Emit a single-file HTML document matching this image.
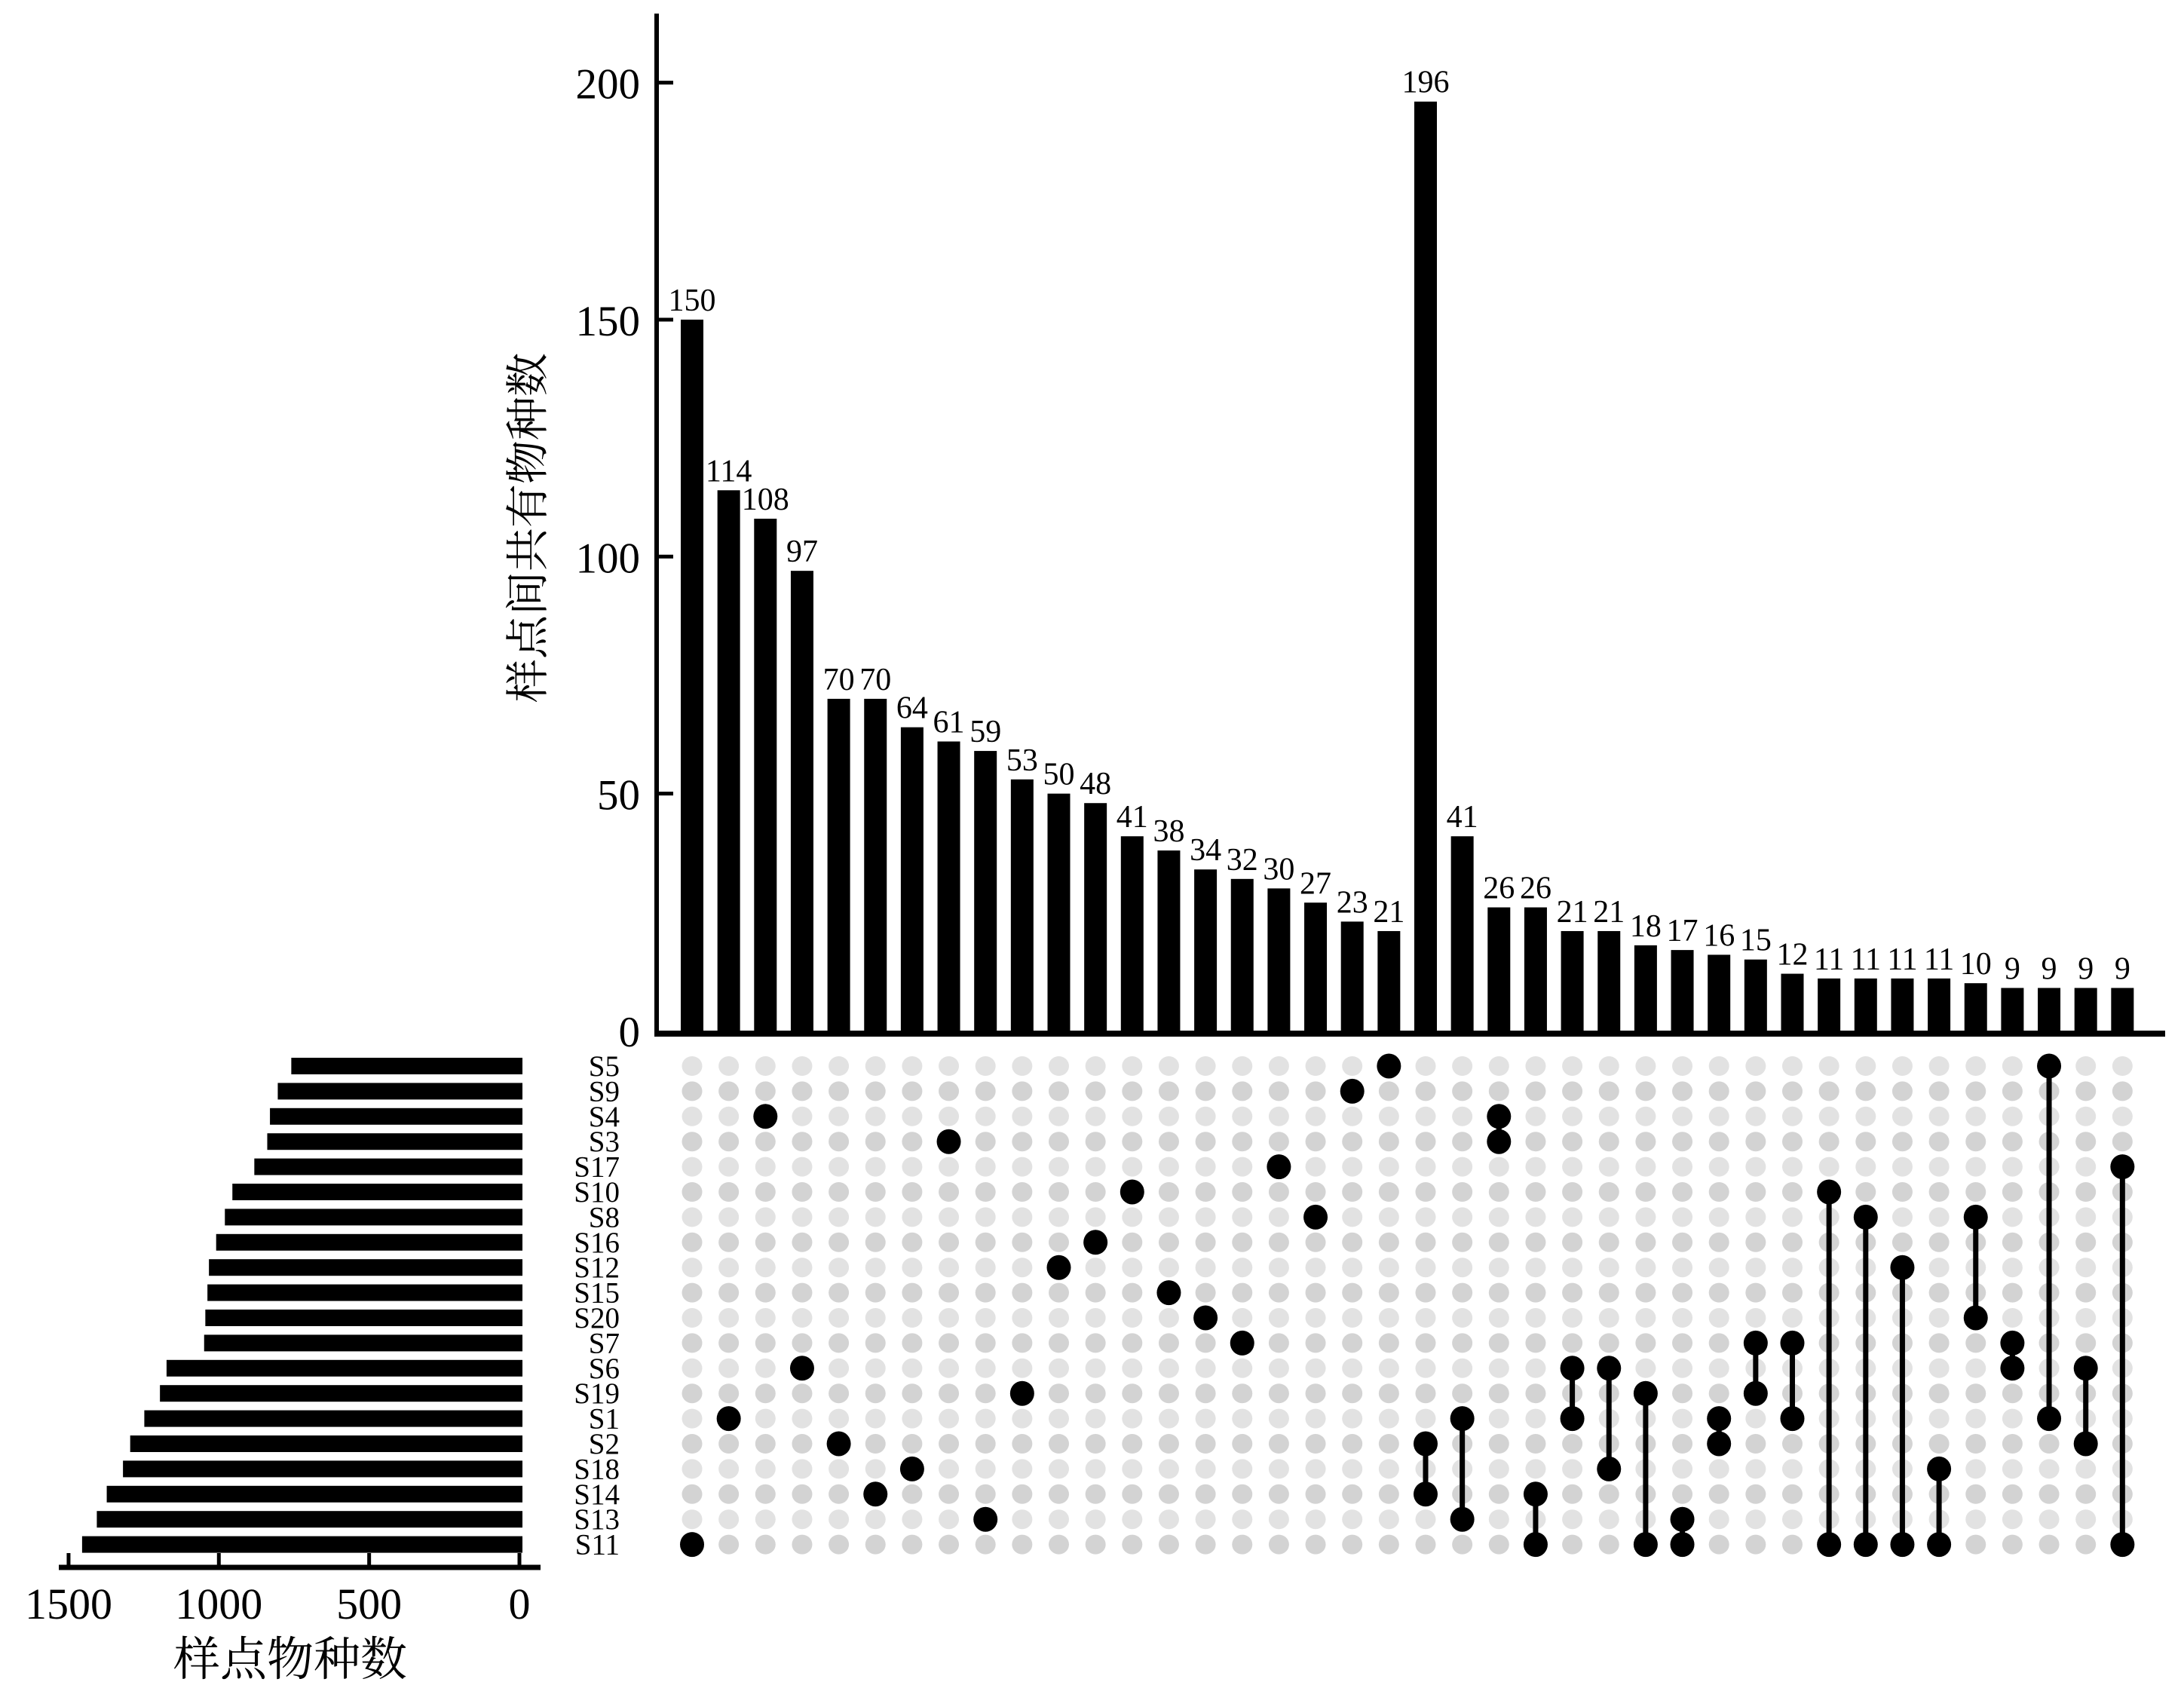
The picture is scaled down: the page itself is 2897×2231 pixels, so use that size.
<!DOCTYPE html>
<html><head><meta charset="utf-8"><style>
html,body{margin:0;padding:0;background:#fff}
svg{display:block}
text{font-family:"Liberation Serif","Noto Serif CJK SC",serif;fill:#000}
</style></head><body>
<svg id="chart" width="2897" height="2231" viewBox="0 0 2897 2231" xmlns="http://www.w3.org/2000/svg">
<g id="topg"></g>
<g id="matrixg"></g>
<g id="leftg"></g>
</svg>
<script>
const intersectionValues = [150,114,108,97,70,70,64,61,59,53,50,48,41,38,34,32,30,27,23,21,196,41,26,26,21,21,18,17,16,15,12,11,11,11,11,10,9,9,9,9];
const intersectionSets = [["S11"],["S1"],["S4"],["S6"],["S2"],["S14"],["S18"],["S3"],["S13"],["S19"],["S12"],["S16"],["S10"],["S15"],["S20"],["S7"],["S17"],["S8"],["S9"],["S5"],
["S2","S14"],["S1","S13"],["S4","S3"],["S14","S11"],["S6","S1"],["S6","S18"],["S19","S11"],["S13","S11"],["S1","S2"],["S7","S19"],["S7","S1"],["S10","S11"],["S8","S11"],["S12","S11"],["S18","S11"],["S8","S20"],["S7","S6"],["S5","S1"],["S6","S2"],["S17","S11"]];
const setNames = ["S5","S9","S4","S3","S17","S10","S8","S16","S12","S15","S20","S7","S6","S19","S1","S2","S18","S14","S13","S11"];
const setSizes = [759,804,830,839,882,955,980,1009,1033,1038,1045,1049,1174,1196,1248,1295,1319,1373,1406,1455];
const topTicks = [0,50,100,150,200];
const leftTicks = [0,500,1000,1500];

const NS="http://www.w3.org/2000/svg";
function mk(parent,tag,attrs,txt){const e=document.createElementNS(NS,tag);for(const k in attrs)e.setAttribute(k,attrs[k]);if(txt!==undefined)e.textContent=txt;parent.appendChild(e);return e;}
const colX = i => 918 + i*48.65;
const yTop = v => 1367 - v*6.287;
const rowY = i => 1414 + i*33.4;
const xLeft = v => 689 - v*0.3987;

const topG=document.getElementById('topg');
let e=mk(topG,'line',{x1:871,y1:18,x2:871,y2:1371,stroke:'#000','stroke-width':6});


e=mk(topG,'line',{x1:868,y1:1371,x2:2872,y2:1371,stroke:'#000','stroke-width':8});


topTicks.forEach(t=>{
  const y=yTop(t);
  if(t>0){const tk=mk(topG,'line',{x1:871,y1:y,x2:893,y2:y,stroke:'#000','stroke-width':5});
  
  }
  const lb=mk(topG,'text',{x:849,y:y+21,'text-anchor':'end','font-size':57},String(t));
  
  
});
e=mk(topG,'text',{x:0,y:0,'text-anchor':'middle','font-size':58,transform:'translate(720,700) rotate(-90)'},'样点间共有物种数');


intersectionValues.forEach((v,i)=>{
  const x=colX(i);
  const b=mk(topG,'rect',{x:x-15,y:yTop(v),width:30,height:1367-yTop(v),fill:'#000'});
  
  
  const l=mk(topG,'text',{x:x,y:yTop(v)-12,'text-anchor':'middle','font-size':42},String(v));
  
  
});

const matG=document.getElementById('matrixg');
setNames.forEach((s,r)=>{
  const lb=mk(matG,'text',{x:822,y:rowY(r)+13,'text-anchor':'end','font-size':39},s);
  
  
  intersectionValues.forEach((v,i)=>{
    const d=mk(matG,'ellipse',{cx:colX(i),cy:rowY(r),rx:13.5,ry:13,fill:r%2?'#d3d3d3':'#e2e2e2'});
    
    
  });
});
intersectionSets.forEach((sets,i)=>{
  const ys=sets.map(s=>rowY(setNames.indexOf(s)));
  const x=colX(i);
  if(ys.length>1){
    const ln=mk(matG,'line',{x1:x,y1:Math.min(...ys),x2:x,y2:Math.max(...ys),stroke:'#000','stroke-width':7});
    
    
  }
  ys.forEach(y=>{
    const d=mk(matG,'ellipse',{cx:x,cy:y,rx:16,ry:16.5,fill:'#000'});
    
    
  });
});

const leftG=document.getElementById('leftg');
setSizes.forEach((v,r)=>{
  const b=mk(leftG,'rect',{x:xLeft(v),y:rowY(r)-11,width:693-xLeft(v),height:22,fill:'#000'});
  
  
});
e=mk(leftG,'line',{x1:78,y1:2079,x2:717,y2:2079,stroke:'#000','stroke-width':7});


leftTicks.forEach(t=>{
  const x=xLeft(t);
  const tk=mk(leftG,'line',{x1:x,y1:2060,x2:x,y2:2079,stroke:'#000','stroke-width':5});
  
  
  const lb=mk(leftG,'text',{x:x,y:2147,'text-anchor':'middle','font-size':58},String(t));
  
  
});
e=mk(leftG,'text',{x:385,y:2222,'text-anchor':'middle','font-size':62},'样点物种数');


</script>
</body></html>
